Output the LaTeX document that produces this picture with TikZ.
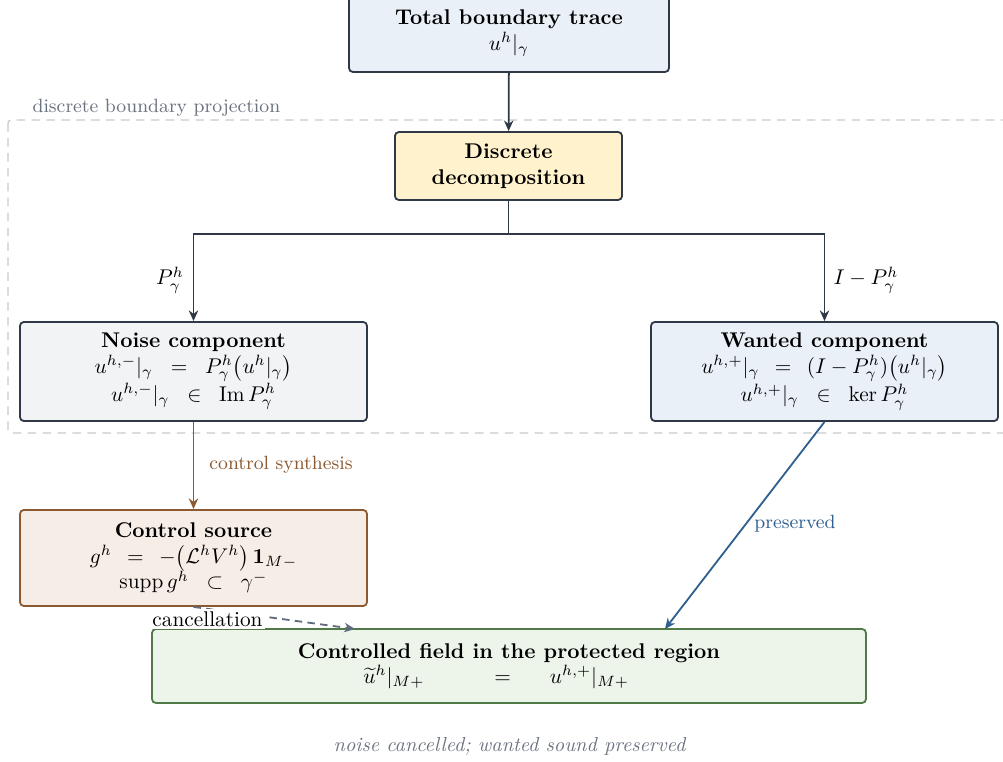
\documentclass[tikz,border=0pt]{standalone}
\usepackage{amsmath,amssymb}
\usetikzlibrary{arrows.meta}
\definecolor{lineC}{HTML}{2F3846}
\definecolor{topF}{HTML}{E9F0F8}
\definecolor{decF}{HTML}{FFF2CC}
\definecolor{noiseF}{HTML}{F1F3F5}
\definecolor{ctrlF}{HTML}{F7EDE7}
\definecolor{ctrlD}{HTML}{8C5A32}
\definecolor{grnF}{HTML}{EDF5EB}
\definecolor{grnD}{HTML}{527A48}
\definecolor{presC}{HTML}{2F5F8F}
\definecolor{cancC}{HTML}{5F6B7A}
\definecolor{regC}{HTML}{C8CACD}
\definecolor{regT}{HTML}{6B7280}
\begin{document}
\begin{tikzpicture}[x=0.4695pt,y=-0.4695pt,
  box/.style={draw=lineC,line width=0.85pt,rounded corners=1.8pt,align=center,inner sep=2pt},
  arr/.style={line width=0.85pt,-{Stealth[length=5pt,width=4.4pt]}},
  lab/.style={font=\small,inner sep=1pt}]
\useasboundingbox (0,0) rectangle (1003,762);
% region
\draw[regC,dashed,line width=0.6pt,dash pattern=on 4pt off 3pt,rounded corners=1.5pt] (8,120) rectangle (1012,433);
\node[lab,text=regT,anchor=west] (reglab) at (30,108) {discrete boundary projection};
% nodes
\node[box,fill=topF,minimum width=150.2pt,minimum height=36.6pt] (top) at (509,33)
  {\textbf{Total boundary trace}\\ $u^h|_\gamma$};
\node[box,fill=decF,minimum width=106.6pt,minimum height=31.9pt] (dec) at (508.5,166)
  {\textbf{Discrete}\\ \textbf{decomposition}};
\node[box,fill=noiseF,minimum width=162.9pt,minimum height=46.5pt] (noise) at (193.5,371.5)
  {\textbf{Noise component}\\
   $u^{h,-}|_\gamma \;\;=\;\; P^h_\gamma\bigl(u^h|_\gamma\bigr)$\\
   $u^{h,-}|_\gamma \;\;\in\;\; \operatorname{Im} P^h_\gamma$};
\node[box,fill=topF,minimum width=162.9pt,minimum height=46.5pt] (want) at (824.5,371.5)
  {\textbf{Wanted component}\\
   $u^{h,+}|_\gamma \;\,=\;\, (I-P^h_\gamma)\bigl(u^h|_\gamma\bigr)$\\
   $u^{h,+}|_\gamma \;\;\in\;\; \ker P^h_\gamma$};
\node[box,draw=ctrlD,fill=ctrlF,minimum width=162.9pt,minimum height=45.1pt] (ctrl) at (193.5,558)
  {\textbf{Control source}\\
   $g^h \;\,=\;\, -\bigl(\mathcal{L}^h V^h\bigr)\,\mathbf{1}_{M-}$\\
   $\operatorname{supp} g^h \;\;\subset\;\; \gamma^-$};
\node[box,draw=grnD,fill=grnF,minimum width=335.2pt,minimum height=34.7pt] (grn) at (509,666)
  {\textbf{Controlled field in the protected region}\\
   $\widetilde{u}^h|_{M+} \qquad\quad = \quad\;\; u^{h,+}|_{M+}\kern12pt$};
% connectors
\draw[arr,lineC] (top) -- (dec);
\coordinate (split) at (508.5,234);
\draw[arr,lineC] (dec.south) -- (split) -| (noise.north);
\draw[arr,lineC] (split) -| (want.north);
\node[inner sep=1pt] (pl) at (170,280) {$P^h_\gamma$};
\node[inner sep=1pt] (ipl) at (866,280) {$I-P^h_\gamma$};
\draw[arr,ctrlD] (noise) -- (ctrl);
\node[lab,text=ctrlD] (cs) at (281,465) {control synthesis};
\coordinate (pend) at (665,629);
\draw[arr,presC] (want.south) -- (pend);
\node[lab,text=presC] (pr) at (795,524) {preserved};
\coordinate (cend) at (355,629);
\draw[arr,cancC,dashed,dash pattern=on 3.5pt off 2.5pt] (ctrl.south) -- (cend);
\node[fill=white,inner sep=1pt] (canc) at (207.5,619) {cancellation};
\node[text=regT,inner sep=1pt,font=\fontsize{9.5}{11}\selectfont] (foot) at (510,746) {\textit{noise cancelled; wanted sound preserved}};
\end{tikzpicture}
\end{document}
